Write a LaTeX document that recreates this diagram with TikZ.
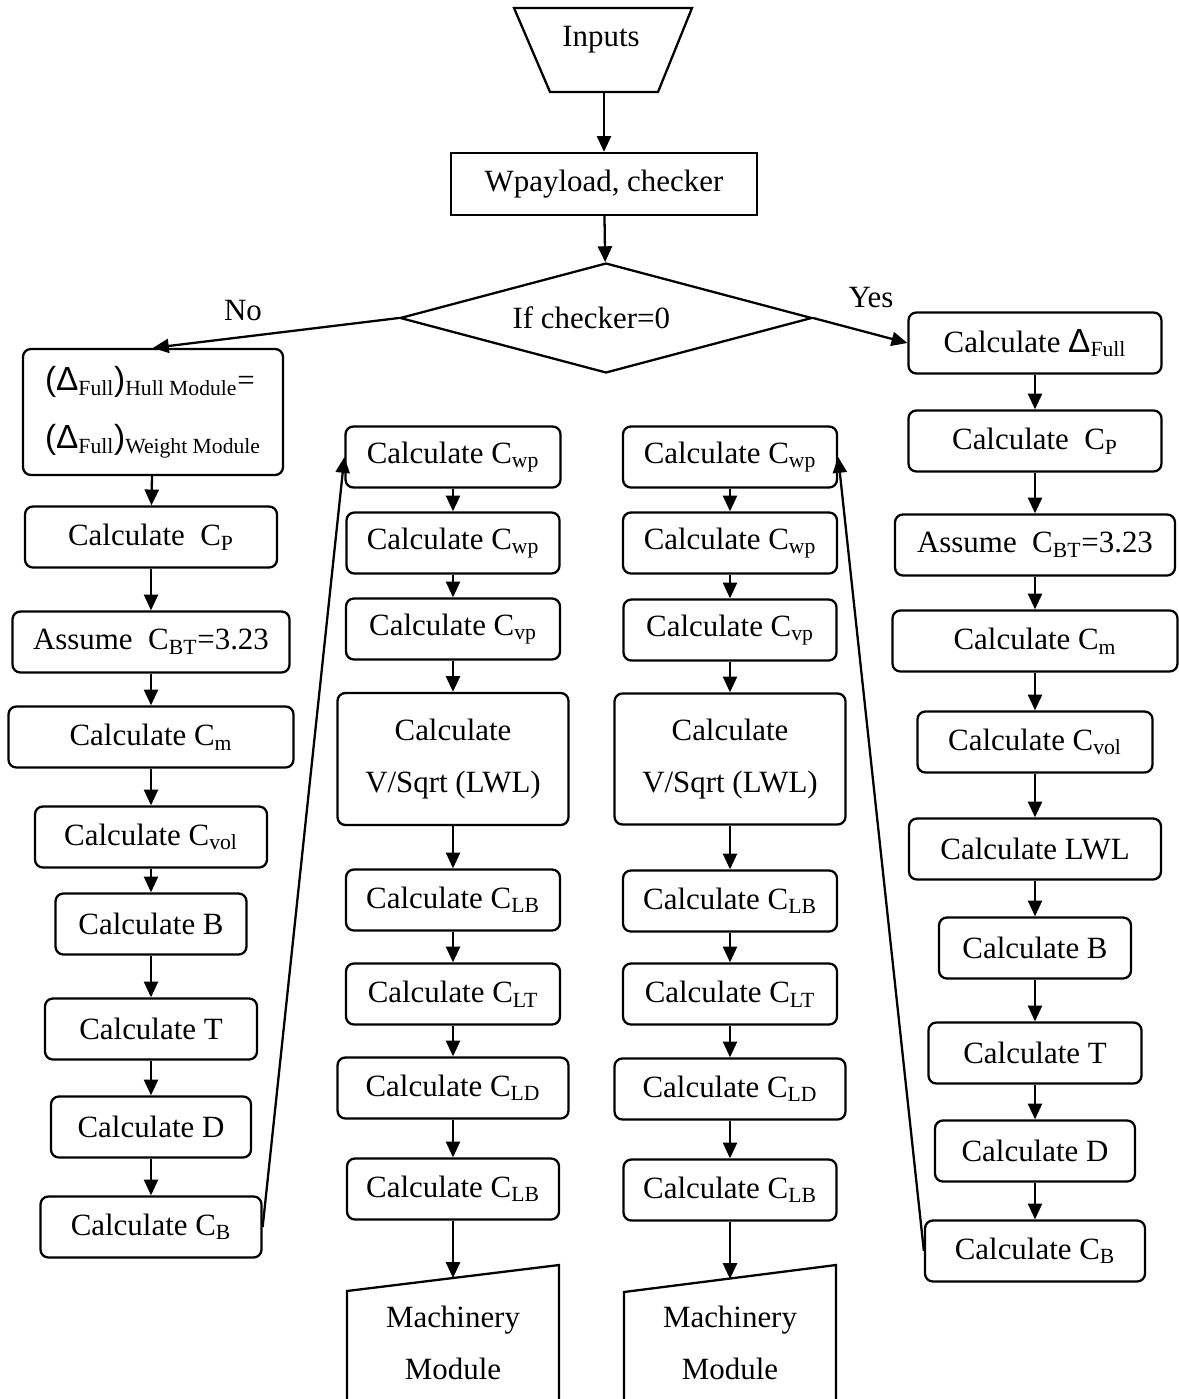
\documentclass[tikz,border=0pt]{standalone}
\usepackage{fontspec}
\setmainfont{Liberation Serif}
\newfontfamily\deltafont{Liberation Sans}
\usetikzlibrary{arrows.meta,shapes.geometric}
\newcommand{\Dlt}{{\deltafont\fontsize{19}{30}\selectfont Δ}}

\begin{document}
\begin{tikzpicture}[x=0.02cm,y=-0.02cm,>={Triangle[length=9pt,width=8pt]},line width=1.3pt,
  font=\fontsize{17.6}{30}\selectfont,
  box/.style={draw,rounded corners=4.5pt,minimum height=1.22cm,inner sep=0pt},
  wd/.style={minimum width=#1*0.02cm}]
  \useasboundingbox (0,0) rectangle (1178,1399);
  % top
  \draw (514,8) -- (692,8) -- (658,92) -- (550,92) -- cycle;
  \node (inputs) at (601,40) {Inputs};
  \coordinate (inp) at (604,92);
  \node[draw,wd=306,minimum height=1.24cm] (wpay) at (604,184) {Wpayload, checker};
  \node[draw,diamond,aspect=3.75,minimum width=8.24cm,minimum height=2.2cm,inner sep=0pt] (chk) at (606,318) {If checker=0\kern0.95em\null};
  \node (no) at (243,311) {No};
  \node (yes) at (871,298) {Yes};
  \draw[->] (inp) -- (wpay);
  \draw[->] (wpay) -- (chk);
  % left column
  \node[box,wd=260,minimum height=2.52cm,align=left] (hull) at (153,412)
    {{\deltafont\fontsize{19}{30}\selectfont(Δ}\textsubscript{Full}{\deltafont\fontsize{19}{30}\selectfont)}\textsubscript{Hull Module}=\\[3pt]
     {\deltafont\fontsize{19}{30}\selectfont(Δ}\textsubscript{Full}{\deltafont\fontsize{19}{30}\selectfont)}\textsubscript{Weight Module}};
  \node[box,wd=252] (lcp) at (151,537) {Calculate~~C\textsubscript{P}};
  \node[box,wd=277] (lbt) at (151,642) {Assume~~C\textsubscript{BT}=3.23};
  \node[box,wd=285] (lcm) at (151,737) {Calculate C\textsubscript{m}};
  \node[box,wd=232] (lvol) at (151,837) {Calculate C\textsubscript{vol}};
  \node[box,wd=191] (lb) at (151,924) {Calculate B};
  \node[box,wd=212] (lt) at (151,1029) {Calculate T};
  \node[box,wd=200] (ld) at (151,1127) {Calculate D};
  \node[box,wd=221] (lcb) at (151,1227) {Calculate C\textsubscript{B}};
  \draw[->] (chk.west) -- (hull.north);
  \draw[->] (hull) -- (lcp);
  \draw[->] (lcp) -- (lbt);
  \draw[->] (lbt) -- (lcm);
  \draw[->] (lcm) -- (lvol);
  \draw[->] (lvol) -- (lb);
  \draw[->] (lb) -- (lt);
  \draw[->] (lt) -- (ld);
  \draw[->] (ld) -- (lcb);
  % middle columns
  \node[box,wd=215] (m1wp) at (453,457) {Calculate C\textsubscript{wp}};
  \node[box,wd=213] (m1wq) at (453,543) {Calculate C\textsubscript{wp}};
  \node[box,wd=214] (m1vp) at (453,629) {Calculate C\textsubscript{vp}};
  \node[box,wd=231,minimum height=2.64cm,align=center] (m1sq) at (453,759) {Calculate\\V/Sqrt (LWL)};
  \node[box,wd=214] (m1lb) at (453,900) {Calculate C\textsubscript{LB}};
  \node[box,wd=214] (m1lt) at (453,994) {Calculate C\textsubscript{LT}};
  \node[box,wd=231] (m1ld) at (453,1088) {Calculate C\textsubscript{LD}};
  \node[box,wd=212] (m1lb2) at (453,1189) {Calculate C\textsubscript{LB}};
  \draw (347,1399) -- (347,1291) -- (559,1265) -- (559,1399);
  \coordinate (m1top) at (453,1278);
  \node[align=center] (mach1) at (453,1343) {Machinery\\Module};
  \draw[->] (m1wp) -- (m1wq);
  \draw[->] (m1wq) -- (m1vp);
  \draw[->] (m1vp) -- (m1sq);
  \draw[->] (m1sq) -- (m1lb);
  \draw[->] (m1lb) -- (m1lt);
  \draw[->] (m1lt) -- (m1ld);
  \draw[->] (m1ld) -- (m1lb2);
  \draw[->] (m1lb2) -- (m1top);

  \node[box,wd=214] (m2wp) at (730,457) {Calculate C\textsubscript{wp}};
  \node[box,wd=214] (m2wq) at (730,543) {Calculate C\textsubscript{wp}};
  \node[box,wd=213] (m2vp) at (730,630) {Calculate C\textsubscript{vp}};
  \node[box,wd=231,minimum height=2.62cm,align=center] (m2sq) at (730,759) {Calculate\\V/Sqrt (LWL)};
  \node[box,wd=214] (m2lb) at (730,901) {Calculate C\textsubscript{LB}};
  \node[box,wd=214] (m2lt) at (730,994) {Calculate C\textsubscript{LT}};
  \node[box,wd=231] (m2ld) at (730,1089) {Calculate C\textsubscript{LD}};
  \node[box,wd=213] (m2lb2) at (730,1190) {Calculate C\textsubscript{LB}};
  \draw (624,1399) -- (624,1292) -- (836,1265) -- (836,1399);
  \coordinate (m2top) at (730,1279);
  \node[align=center] (mach2) at (730,1343) {Machinery\\Module};
  \draw[->] (m2wp) -- (m2wq);
  \draw[->] (m2wq) -- (m2vp);
  \draw[->] (m2vp) -- (m2sq);
  \draw[->] (m2sq) -- (m2lb);
  \draw[->] (m2lb) -- (m2lt);
  \draw[->] (m2lt) -- (m2ld);
  \draw[->] (m2ld) -- (m2lb2);
  \draw[->] (m2lb2) -- (m2top);
  % right column
  \node[box,wd=253] (rdf) at (1035,343) {Calculate \Dlt\textsubscript{Full}};
  \node[box,wd=253] (rcp) at (1035,441) {Calculate~~C\textsubscript{P}};
  \node[box,wd=280] (rbt) at (1035,545) {Assume~~C\textsubscript{BT}=3.23};
  \node[box,wd=285] (rcm) at (1035,641) {Calculate C\textsubscript{m}};
  \node[box,wd=235] (rvol) at (1035,742) {Calculate C\textsubscript{vol}};
  \node[box,wd=252] (rlwl) at (1035,849) {Calculate LWL};
  \node[box,wd=192] (rb) at (1035,948) {Calculate B};
  \node[box,wd=213] (rt) at (1035,1053) {Calculate T};
  \node[box,wd=200] (rd) at (1035,1151) {Calculate D};
  \node[box,wd=220] (rcb) at (1035,1251) {Calculate C\textsubscript{B}};
  \draw[->] (chk.east) -- (rdf.west);
  \draw[->] (rdf) -- (rcp);
  \draw[->] (rcp) -- (rbt);
  \draw[->] (rbt) -- (rcm);
  \draw[->] (rcm) -- (rvol);
  \draw[->] (rvol) -- (rlwl);
  \draw[->] (rlwl) -- (rb);
  \draw[->] (rb) -- (rt);
  \draw[->] (rt) -- (rd);
  \draw[->] (rd) -- (rcb);
  % loops back to the middle columns
  \draw[->] (lcb.east) -- (m1wp.west);
  \draw[->] (rcb.west) -- (m2wp.east);
\end{tikzpicture}
\end{document}
